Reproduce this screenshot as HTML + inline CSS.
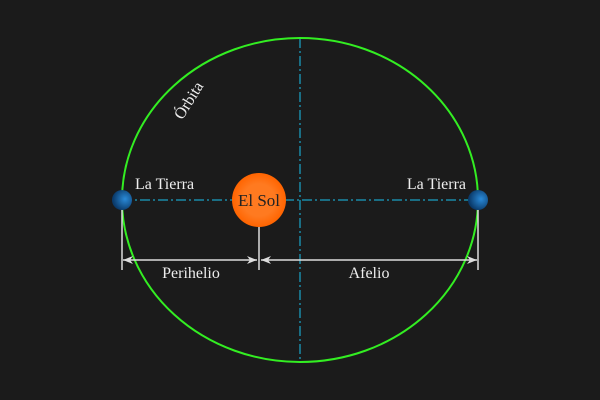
<!DOCTYPE html>
<html><head><style>html,body{margin:0;background:#1b1b1b;overflow:hidden;width:600px;height:400px}svg{display:block}</style></head><body>
<svg width="600" height="400" xmlns="http://www.w3.org/2000/svg" font-family="Liberation Serif, serif">
<defs>
<radialGradient id="sun" cx="50%" cy="50%" r="50%"><stop offset="0.6" stop-color="#ff7a20"/><stop offset="1" stop-color="#ff6400"/></radialGradient>
<radialGradient id="earth" cx="65%" cy="45%" r="60%"><stop offset="0" stop-color="#2a8ad8"/><stop offset="1" stop-color="#0a3a6a"/></radialGradient>
<marker id="a" markerWidth="10" markerHeight="8" refX="10" refY="4" orient="auto-start-reverse" markerUnits="userSpaceOnUse"><path d="M0,0 L10,4 L0,8 L3,4z" fill="#ddd"/></marker>
</defs>
<rect width="600" height="400" fill="#1b1b1b"/>
<line x1="300" y1="38" x2="300" y2="362" stroke="#1a8aa8" stroke-width="1.5" stroke-dasharray="10,3,2,3"/>
<line x1="122" y1="200" x2="478" y2="200" stroke="#1a8aa8" stroke-width="1.5" stroke-dasharray="10,3,2,3"/>
<ellipse cx="300" cy="200" rx="178" ry="162" fill="none" stroke="#33ee22" stroke-width="2"/>
<g stroke="#ddd" stroke-width="1.5">
<line x1="122" y1="205" x2="122" y2="270"/>
<line x1="259" y1="220" x2="259" y2="270"/>
<line x1="478" y1="205" x2="478" y2="270"/>
<line x1="123" y1="260" x2="257" y2="260" marker-start="url(#a)" marker-end="url(#a)"/>
<line x1="261" y1="260" x2="477" y2="260" marker-start="url(#a)" marker-end="url(#a)"/>
</g>
<circle cx="259" cy="200" r="27" fill="url(#sun)"/>
<text x="259" y="206" font-size="17" text-anchor="middle" fill="#222">El Sol</text>
<circle cx="122" cy="200" r="10" fill="url(#earth)"/>
<circle cx="478" cy="200" r="10" fill="url(#earth)"/>
<g fill="#eee" font-size="16">
<text x="135" y="189">La Tierra</text>
<text x="466" y="189" text-anchor="end">La Tierra</text>
<text x="191" y="278" text-anchor="middle">Perihelio</text>
<text x="369" y="278" text-anchor="middle">Afelio</text>
<text x="188" y="106" text-anchor="middle" transform="rotate(-58 188 100)">Órbita</text>
</g>
</svg>
</body></html>
